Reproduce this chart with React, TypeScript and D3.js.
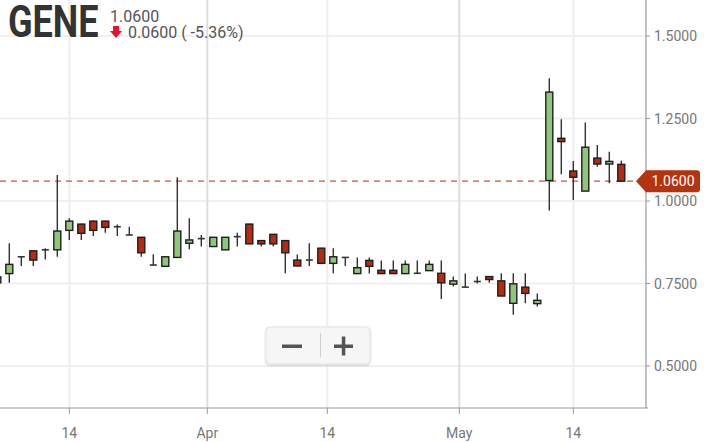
import React from "react";
import * as d3 from "d3";

const opens = [0.752, 0.78, 0.831, 0.849, 0.852, 0.852, 0.911, 0.93, 0.939, 0.939, 0.922, 0.897, 0.89, 0.806, 0.802, 0.829, 0.872, 0.886, 0.862, 0.852, 0.892, 0.93, 0.88, 0.899, 0.88, 0.821, 0.821, 0.857, 0.811, 0.829, 0.78, 0.82, 0.79, 0.79, 0.78, 0.781, 0.789, 0.781, 0.748, 0.739, 0.756, 0.771, 0.758, 0.69, 0.739, 0.689, 1.062, 1.19, 1.091, 1.03, 1.13, 1.112, 1.111];
const highs = [0.775, 0.872, 0.833, 0.851, 0.857, 1.079, 0.948, 0.931, 0.941, 0.94, 0.929, 0.922, 0.891, 0.839, 0.831, 1.072, 0.948, 0.897, 0.89, 0.89, 0.904, 0.931, 0.881, 0.9, 0.881, 0.838, 0.872, 0.858, 0.857, 0.83, 0.829, 0.829, 0.82, 0.82, 0.82, 0.82, 0.82, 0.82, 0.771, 0.78, 0.771, 0.772, 0.781, 0.781, 0.781, 0.72, 1.372, 1.248, 1.121, 1.238, 1.17, 1.149, 1.122];
const lows = [0.745, 0.752, 0.803, 0.803, 0.823, 0.831, 0.882, 0.882, 0.894, 0.904, 0.894, 0.897, 0.831, 0.806, 0.802, 0.829, 0.854, 0.862, 0.862, 0.852, 0.862, 0.87, 0.862, 0.862, 0.781, 0.803, 0.803, 0.811, 0.781, 0.803, 0.78, 0.78, 0.78, 0.78, 0.78, 0.781, 0.789, 0.703, 0.741, 0.739, 0.75, 0.752, 0.712, 0.655, 0.69, 0.68, 0.971, 1.081, 1.003, 1.03, 1.104, 1.054, 1.06];
const closes = [0.77, 0.808, 0.831, 0.821, 0.852, 0.909, 0.939, 0.902, 0.911, 0.92, 0.922, 0.897, 0.843, 0.806, 0.831, 0.909, 0.882, 0.886, 0.89, 0.89, 0.892, 0.87, 0.87, 0.87, 0.843, 0.803, 0.821, 0.811, 0.831, 0.829, 0.798, 0.802, 0.78, 0.78, 0.808, 0.781, 0.808, 0.752, 0.758, 0.739, 0.756, 0.762, 0.712, 0.749, 0.72, 0.699, 1.33, 1.18, 1.072, 1.163, 1.112, 1.12, 1.06];

const yTicks = [0.5, 0.75, 1.0, 1.25, 1.5];
const xTickLabels = ["14", "Apr", "14", "May", "14"];
const xTickIndex = [6, 17.5, 27.5, 38.5, 48];
const xTickMonth = [false, true, false, true, false];

const symbol = "GENE";
const lastPrice = 1.06;
const changeAbs = 0.06;
const changePct = -5.36;

const W = 704;
const H = 442;
const plotRight = 646;
const plotBottom = 408;

export default function App() {
  const x = d3.scaleLinear().domain([0, 52]).range([-2.7, 621.3]);
  const y = d3.scaleLinear().domain([0.5, 1.5]).range([366, 36]);
  const fmt = d3.format(".4f");
  const bw = 7;
  const green = "#8fc67a";
  const red = "#b8290d";
  const idx = d3.range(opens.length);

  return (
    <svg width={W} height={H} style={{ position: "absolute", left: 0, top: 0, fontFamily: "Roboto, sans-serif" }}>
      <defs>
        <clipPath id="plot">
          <rect x={0} y={0} width={plotRight} height={plotBottom} />
        </clipPath>
        <filter id="shadow" x="-10%" y="-20%" width="120%" height="150%">
          <feDropShadow dx="0" dy="1" stdDeviation="1.2" floodColor="#000" floodOpacity="0.18" />
        </filter>
      </defs>
      <rect x={0} y={0} width={W} height={H} fill="#fff" />
      {yTicks.map((t) => (
        <line key={"hg" + t} x1={0} x2={plotRight} y1={y(t)} y2={y(t)} stroke="#ebebeb" strokeWidth={1.5} />
      ))}
      {xTickIndex.map((t, i) => (
        <line key={"vg" + i} x1={x(t)} x2={x(t)} y1={0} y2={plotBottom} stroke={xTickMonth[i] ? "#dedede" : "#eeeeee"} strokeWidth={2} />
      ))}
      <line x1={0} x2={plotRight} y1={y(lastPrice)} y2={y(lastPrice)} stroke="#c4553f" strokeWidth={1.2} strokeDasharray="6,5" />
      <g clipPath="url(#plot)">
        {idx.map((i) => {
          const o = opens[i], c = closes[i], h = highs[i], l = lows[i];
          const cx = x(i);
          const up = c > o;
          const doji = Math.abs(c - o) < 0.0015;
          const top = y(Math.max(o, c));
          const bot = y(Math.min(o, c));
          return (
            <g key={"c" + i}>
              <line x1={cx} x2={cx} y1={y(h)} y2={y(l)} stroke="#333" strokeWidth={1.4} />
              {doji ? (
                <line x1={cx - bw / 2} x2={cx + bw / 2} y1={y(c)} y2={y(c)} stroke="#333" strokeWidth={1.6} />
              ) : (
                <rect x={cx - bw / 2} y={top} width={bw} height={Math.max(1, bot - top)} fill={up ? green : red} stroke="#1e1e1e" strokeWidth={1.4} />
              )}
            </g>
          );
        })}
      </g>
      <line x1={plotRight} x2={plotRight} y1={0} y2={plotBottom} stroke="#9a9a9a" strokeWidth={1.2} />
      {yTicks.map((t) => (
        <g key={"yt" + t}>
          <line x1={plotRight} x2={plotRight + 4} y1={y(t)} y2={y(t)} stroke="#9a9a9a" strokeWidth={1} />
          <text x={654} y={y(t) + 5} fontSize={14} fill="#777">{fmt(t)}</text>
        </g>
      ))}
      <line x1={0} x2={plotRight + 2} y1={plotBottom} y2={plotBottom} stroke="#9a9a9a" strokeWidth={1.2} />
      {xTickIndex.map((t, i) => (
        <g key={"xt" + i}>
          <line x1={x(t)} x2={x(t)} y1={plotBottom} y2={plotBottom + 6} stroke="#9a9a9a" strokeWidth={1} />
          <text x={x(t)} y={438} fontSize={14} fill="#777" textAnchor="middle">{xTickLabels[i]}</text>
        </g>
      ))}
      <g>
        <path
          d={`M ${plotRight - 10} ${y(lastPrice)} L ${plotRight} ${y(lastPrice) - 11} L 697 ${y(lastPrice) - 11} Q 700 ${y(lastPrice) - 11} 700 ${y(lastPrice) - 8} L 700 ${y(lastPrice) + 8} Q 700 ${y(lastPrice) + 11} 697 ${y(lastPrice) + 11} L ${plotRight} ${y(lastPrice) + 11} Z`}
          fill="#b5330f"
        />
        <text x={673} y={y(lastPrice) + 5} fontSize={14} fill="#fff" textAnchor="middle">{fmt(lastPrice)}</text>
      </g>
      <g transform="translate(8,37) scale(0.82,1)">
        <text x={0} y={0} fontSize={44} fontWeight="bold" fill="#333">{symbol}</text>
      </g>
      <text x={110} y={22} fontSize={16} fill="#555">{fmt(lastPrice)}</text>
      <path d="M 113 26 L 119 26 L 119 31 L 122 31 L 116 38 L 110 31 L 113 31 Z" fill="#e8112d" />
      <text x={128} y={38} fontSize={16} fill="#555">{`${fmt(changeAbs)} ( ${changePct.toFixed(2)}%)`}</text>
      <g>
        <rect x={266} y={327} width={104} height={37} rx={4} fill="#f6f6f6" stroke="#e2e2e2" strokeWidth={1} filter="url(#shadow)" />
        <line x1={320.5} x2={320.5} y1={333} y2={357} stroke="#cfcfcf" strokeWidth={1} />
        <rect x={282} y={344.5} width={20} height={3.5} fill="#555" />
        <rect x={334} y={344.5} width={19} height={3.5} fill="#555" />
        <rect x={341.8} y={336.5} width={3.5} height={19} fill="#555" />
      </g>
    </svg>
  );
}
